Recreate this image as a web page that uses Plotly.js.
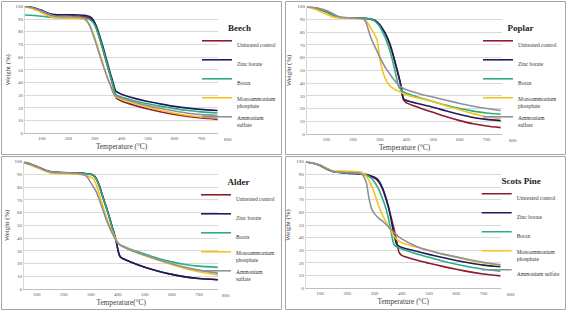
<!DOCTYPE html>
<html>
<head>
<meta charset="utf-8">
<script src="https://cdn.plot.ly/plotly-3.0.1.min.js"></script>
<style>html,body{margin:0;padding:0;background:#fff;}#chart{width:567px;height:311px;}</style>
</head>
<body>
<div id="chart"></div>
<script>
// ---------- DATA ----------
const seriesNames = ['Untreated control', 'Zinc borate', 'Borax', 'Monoammonium<br>phosphate', 'Ammonium<br>sulfate'];
const seriesNamesPine = ['Untreated control', 'Zinc borate', 'Borax', 'Monoammonium<br>phosphate', 'Ammonium sulfate'];
const panelTitles = ['Beech', 'Poplar', 'Alder', 'Scots Pine'];
const xTitles = ['Temperature (°C)', 'Temperature (°C)', 'Temperature(°C)', 'Temperature (°C)'];
const xTickVals = [100, 200, 300, 400, 500, 600, 700];
const extraTickLabel = 800;

// Beech
const beechT = [37, 60, 80, 100, 120, 140, 160, 200, 240, 260, 270, 280, 290, 300, 310, 320, 330, 340, 350, 360, 365, 370, 375, 380, 390, 400, 450, 500, 550, 600, 650, 700, 762];
const beechUntreated = [99.5, 99, 97.5, 96, 94, 92.8, 92.3, 92.2, 92, 91.8, 91.5, 90.8, 89, 85.5, 80, 73, 66, 58.5, 51, 43.5, 40, 36, 31, 28, 26.5, 25.5, 22, 19.2, 16.8, 14.8, 13.2, 12, 11];
const beechZinc = [100, 99.5, 98.3, 96.8, 95, 93.8, 93.4, 93.3, 93.1, 92.9, 92.6, 92, 90.3, 87, 82, 75.5, 68.5, 61, 53.5, 46, 42.5, 39, 35, 33, 31.7, 30.8, 27.5, 25, 23, 21.2, 19.8, 18.8, 18];
const beechBorax = [93.2, 93, 92.6, 92.2, 91.7, 91.3, 91, 90.8, 90.6, 90.4, 90.2, 89.6, 88, 85, 80, 73.5, 66.5, 59, 51.5, 44, 40.5, 36.5, 32.5, 30.3, 29.2, 28.5, 25.5, 23.2, 21.2, 19.4, 17.9, 16.9, 16];
const beechMAP = [99.5, 98.5, 96.8, 95, 93, 91.5, 91, 90.7, 90.5, 89.8, 88, 85.5, 80.5, 75, 68.5, 61.5, 55, 48.5, 42.5, 37.5, 34.5, 31.5, 29.5, 28.5, 27.5, 26.8, 23.3, 20.5, 18, 15.8, 14, 12.8, 12];
const beechAS = [99.8, 99, 97.8, 96.3, 94.3, 92.8, 92, 91.8, 91.5, 90.5, 88.5, 85, 79.5, 73.5, 67, 60.5, 54, 48, 42, 37, 34, 31.5, 30, 29.3, 28.5, 27.8, 24.5, 21.8, 19.5, 17.5, 15.8, 14.7, 14];

// Poplar
const poplarT = [27, 50, 75, 100, 125, 150, 200, 240, 250, 260, 270, 280, 290, 300, 310, 320, 330, 340, 350, 360, 370, 380, 385, 390, 395, 400, 450, 500, 550, 600, 650, 700, 753];
const poplarUntreated = [100, 99.3, 98, 96, 93.5, 91.5, 91, 90.8, 90.7, 90.5, 90, 89.2, 87.5, 85.5, 82.5, 79, 74.5, 69, 62, 54, 46, 37, 30, 26.5, 25.5, 24.5, 20.5, 17, 13.5, 10.5, 8, 6.3, 5];
const poplarZinc = [100, 99.3, 98, 96, 93.5, 91.5, 91, 90.8, 90.7, 90.5, 90.2, 89.5, 88, 86, 83, 79.5, 75, 69.5, 62.5, 54.5, 46.5, 37.5, 31, 27.5, 27, 26.3, 23.5, 21, 18, 15.3, 13, 11.5, 10.5];
const poplarBorax = [100, 99.3, 98, 96, 93.5, 91.5, 91, 90.8, 90.7, 90.5, 90, 89, 87, 84.5, 80.5, 76, 70.5, 64, 56, 47, 38, 34.5, 33.5, 33, 32.5, 32, 28.5, 25.5, 22.5, 20, 18, 16.5, 15.5];
const poplarMAP = [100, 98.5, 96.5, 94, 92, 91, 90.8, 90, 88.5, 85.5, 82, 78.5, 74, 60, 50, 44, 40, 37.5, 35.8, 34.7, 33.7, 32.7, 32.2, 31.7, 31.2, 30.7, 28, 25.5, 22, 19, 16, 13.5, 12];
const poplarAS = [100, 99.5, 98.5, 97, 94.5, 92, 91, 90.3, 87, 80, 74, 69.5, 65, 60.5, 56.5, 52.5, 49.5, 46.5, 43.5, 41, 38.5, 37, 36.3, 35.7, 35.2, 34.7, 31.5, 29, 26.5, 24, 21.8, 20, 18.5];

// Alder
const alderT = [53, 75, 100, 125, 150, 200, 250, 270, 280, 290, 300, 310, 320, 330, 340, 350, 360, 370, 380, 390, 395, 400, 405, 410, 420, 450, 500, 550, 600, 650, 700, 770];
const alderUntreated = [100, 98.3, 96.2, 94, 92.2, 91.5, 91.2, 90.9, 90.6, 90.4, 90.1, 89.2, 86.8, 82, 75.5, 69, 62.5, 55.5, 48, 41, 36.5, 31, 27, 25, 23.8, 21, 17, 14, 11.5, 9.5, 8.2, 7.3];
const alderZinc = [99.5, 98, 96, 93.8, 92, 91.3, 91, 90.8, 90.6, 90.4, 90.1, 89.2, 86.8, 82, 75.5, 69, 62.5, 55.5, 48, 41, 36.5, 31, 27, 25, 23.8, 21, 17, 14, 11.5, 9.5, 8.2, 7.3];
const alderBorax = [99.5, 98, 96, 93.8, 92, 91.3, 91, 90.8, 90.5, 90.3, 90, 89, 86.5, 81.5, 75, 68.5, 62, 55, 47.5, 40.5, 37.5, 35.8, 35, 34.4, 33.6, 31, 27.5, 24, 21.3, 19.3, 18, 17];
const alderMAP = [99, 97.5, 95.5, 93, 91.2, 90.5, 90.2, 89.8, 89.3, 88.5, 87.8, 86.5, 82, 75.5, 68.5, 61.5, 55, 49.5, 44.5, 40.5, 38.5, 36.8, 35.5, 34.6, 33.3, 30.5, 26.3, 22.5, 19, 16, 13.5, 11];
const alderAS = [99.5, 98, 96, 93.8, 92, 91.3, 90.8, 90, 89.3, 87, 83.5, 80, 76.5, 71, 65, 59, 53, 48, 43.5, 39.5, 37.8, 36.2, 35.2, 34.4, 33.2, 30.3, 26.5, 23, 19.8, 17, 14.8, 12.5];

// Scots Pine
const pineT = [47, 75, 100, 125, 150, 200, 250, 260, 270, 280, 290, 300, 310, 320, 330, 340, 350, 360, 370, 375, 380, 385, 390, 395, 400, 450, 500, 550, 600, 650, 700, 763];
const pineUntreated = [100, 98.8, 97, 94.3, 92, 91, 90.3, 90, 89.5, 89, 88, 87, 85.5, 82.5, 78, 72, 65, 57, 48.5, 44, 39, 33, 28.5, 27, 26, 22.5, 19.8, 17.3, 15, 13, 11.3, 9.8];
const pineZinc = [100, 98.8, 97, 94.3, 92, 91, 90.5, 90.2, 89.8, 89.3, 88.5, 87.8, 86.5, 83.5, 79, 73, 65.5, 55.5, 44, 39.5, 35.5, 34, 33.3, 32.8, 32.3, 29.5, 26.8, 24.3, 22, 20, 18.3, 17];
const pineBorax = [100, 98.8, 97, 94.3, 92, 91.2, 90.8, 90.3, 89.5, 88.3, 86.5, 84, 80.5, 76, 70.5, 64.5, 56.5, 45.5, 35.5, 33.7, 33, 32.5, 32, 31.5, 31, 27.5, 24.5, 21.5, 19, 16.8, 15, 13.5];
const pineMAP = [100, 98.8, 97.3, 94.8, 92.8, 92.5, 91.8, 90.5, 88.5, 85, 80.5, 75, 68.5, 62.5, 57.5, 53.5, 49.5, 45.5, 42, 40.5, 39, 38, 37.3, 36.7, 36, 32.8, 30, 27, 24.5, 22, 20, 18];
const pineAS = [100, 98.8, 97.3, 94.5, 92.3, 91.5, 90.5, 88.5, 83.5, 71, 62.5, 59, 56.5, 54.5, 53, 51, 48.8, 46.5, 44.5, 43.5, 42.5, 41.5, 40.5, 39.8, 39, 33.5, 29.8, 27, 24.8, 22.6, 20.6, 18.5];

// ---------- STYLE / LAYOUT ----------
const colors = ['#8C1D2E', '#1C1C5C', '#2BAE7E', '#F6C31C', '#8F8F9E'];
const W = 567, H = 311;
const SERIF = 'Liberation Serif, Times New Roman, serif';

// plot areas in pixels [left, right, top, bottom], x ranges
const panels = [
  {T: beechT, s: [beechUntreated, beechZinc, beechBorax, beechMAP, beechAS], names: seriesNames,
   box: [25, 218, 6.3, 133.3], range: [37, 763.5], frame: [1.5, 281.5, 1.5, 154.5], leg: [197, 19]},
  {T: poplarT, s: [poplarUntreated, poplarZinc, poplarBorax, poplarMAP, poplarAS], names: seriesNames,
   box: [306.7, 502.3, 6.7, 134], range: [26.6, 759], frame: [285.5, 565.5, 1.5, 154.5], leg: [478, 19]},
  {T: alderT, s: [alderUntreated, alderZinc, alderBorax, alderMAP, alderAS], names: seriesNames,
   box: [24, 218.3, 161.7, 289], range: [53, 771.6], frame: [1.5, 281.5, 156.5, 309.5], leg: [196, 173]},
  {T: pineT, s: [pineUntreated, pineZinc, pineBorax, pineMAP, pineAS], names: seriesNamesPine,
   box: [305.7, 500.7, 161.7, 288.3], range: [47.5, 763.4], frame: [285.5, 565.5, 156.5, 309.5], leg: [476.7, 172]}
];

const traces = [];
const layout = {
  width: W, height: H, autosize: false,
  margin: {l: 0, r: 0, t: 0, b: 0, pad: 0},
  paper_bgcolor: '#ffffff', plot_bgcolor: '#ffffff',
  showlegend: true,
  shapes: [], annotations: []
};

panels.forEach((p, i) => {
  const n = i === 0 ? '' : String(i + 1);
  const xa = 'xaxis' + n, ya = 'yaxis' + n, legId = 'legend' + n;
  p.s.forEach((vals, k) => {
    traces.push({
      type: 'scatter', mode: 'lines', x: p.T, y: vals,
      name: p.names[k], xaxis: 'x' + n, yaxis: 'y' + n, legend: legId,
      line: {color: colors[k], width: 1.6, shape: 'spline', smoothing: 0.7},
      hoverinfo: 'skip'
    });
  });
  layout[xa] = {
    domain: [p.box[0] / W, p.box[1] / W], range: p.range, anchor: 'y' + n,
    tickmode: 'array', tickvals: xTickVals, showgrid: false, zeroline: false,
    showline: true, linecolor: '#BFBFBF', linewidth: 1, ticks: '',
    tickfont: {family: SERIF, size: 5, color: '#595959'},
    title: {text: xTitles[i], font: {family: SERIF, size: 7.3, color: '#404040'}, standoff: 3},
    fixedrange: true
  };
  layout[ya] = {
    domain: [1 - p.box[3] / H, 1 - p.box[2] / H], range: [0, 100], anchor: 'x' + n,
    dtick: 10, tick0: 0, showgrid: true, gridcolor: '#D9D9D9', gridwidth: 1, zeroline: false,
    showline: true, linecolor: '#D9D9D9', linewidth: 1, ticks: '',
    tickfont: {family: SERIF, size: 5, color: '#595959'},
    title: {text: 'Weight (%)', font: {family: SERIF, size: 6.8, color: '#404040'}, standoff: 4},
    fixedrange: true
  };
  layout[legId] = {
    x: p.leg[0] / W, y: 1 - p.leg[1] / H, xanchor: 'left', yanchor: 'top',
    bgcolor: 'rgba(0,0,0,0)', borderwidth: 0, valign: 'top', itemclick: false, itemdoubleclick: false,
    font: {family: SERIF, size: 5.5, color: '#333333'},
    title: {text: panelTitles[i], side: 'top center', font: {family: SERIF, size: 9, weight: 'bold', color: '#222222'}}
  };
  // panel frame
  layout.shapes.push({type: 'rect', xref: 'paper', yref: 'paper',
    x0: p.frame[0] / W, x1: p.frame[1] / W, y0: 1 - p.frame[3] / H, y1: 1 - p.frame[2] / H,
    line: {color: '#A6A6A6', width: 1}, fillcolor: 'rgba(0,0,0,0)'});
  // last category tick label that lies beyond the plotted range (as in the source chart)
  layout.annotations.push({
    xref: 'x' + n + ' domain', yref: 'y' + n + ' domain',
    x: (extraTickLabel - p.range[0]) / (p.range[1] - p.range[0]), y: 0,
    xanchor: 'center', yanchor: 'top', yshift: -1.5, showarrow: false,
    text: String(extraTickLabel), font: {family: SERIF, size: 5, color: '#595959'}
  });
});

Plotly.newPlot('chart', traces, layout, {displayModeBar: false, staticPlot: true});
</script>
</body>
</html>
